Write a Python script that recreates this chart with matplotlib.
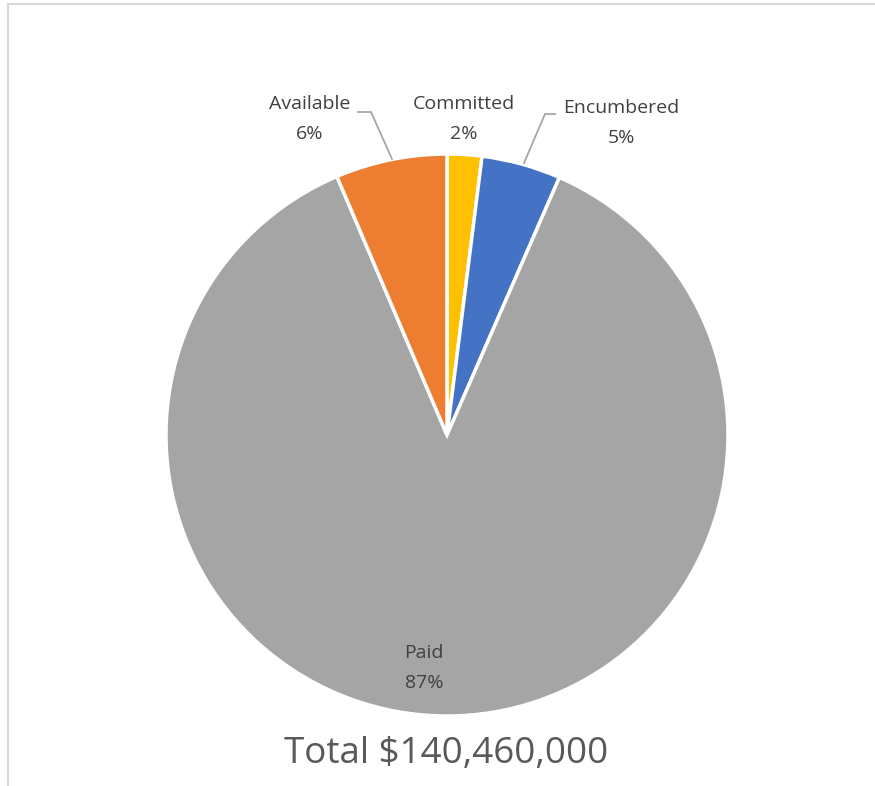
import matplotlib
matplotlib.use("Agg")
import matplotlib.pyplot as plt
from matplotlib.lines import Line2D

# ---- data ----
categories = ["Committed", "Encumbered", "Paid", "Available"]
values = [2_800_000, 6_400_000, 122_260_000, 9_000_000]
colors = ["#FFC000", "#4472C4", "#A5A5A5", "#ED7D31"]
title_text = "Total $140,460,000"

W, H = 875, 786
fig = plt.figure(figsize=(W / 100, H / 100), dpi=100)
ax = fig.add_axes([0, 0, 1, 1])

def py(y):  # pixel-from-top to data y
    return H - y

cx, cy, R = 447, py(435), 281
ax.pie(values, colors=colors, startangle=90, counterclock=False,
       center=(cx, cy), radius=R,
       wedgeprops=dict(edgecolor="white", linewidth=2.5), frame=True)
ax.set_xlim(0, W)
ax.set_ylim(0, H)
ax.set_aspect("equal")
ax.axis("off")

total = sum(values)
pcts = [round(v / total * 100) for v in values]

font = ["Open Sans", "DejaVu Sans"]
lab_col = "#404040"
# label layout (pixel positions of name line centre)
label_pos = {"Committed": (464, 104), "Encumbered": (621, 108),
             "Paid": (424, 653), "Available": (310, 104)}
for cat, p in zip(categories, pcts):
    x, y = label_pos[cat]
    ax.text(x, py(y), cat, ha="center", va="center", fontsize=14,
            color=lab_col, family=font)
    ax.text(x, py(y + 30), f"{p}%", ha="center", va="center", fontsize=14,
            color=lab_col, family=font)

# leader lines
lc = "#A6A6A6"
ax.add_line(Line2D([358, 371, 392], [py(112), py(112), py(159)], color=lc, lw=1.3))
ax.add_line(Line2D([555, 545, 524], [py(114), py(114), py(163)], color=lc, lw=1.3))

# title
ax.text(446, py(754), title_text, ha="center", va="center", fontsize=26.5,
        color="#595959", family=font)

# chart frame
fc = "#D9D9D9"
ax.add_line(Line2D([8, 8], [0, py(4)], color=fc, lw=1.5))
ax.add_line(Line2D([8, W], [py(4), py(4)], color=fc, lw=1.5))

fig.savefig("out.png", dpi=100)
